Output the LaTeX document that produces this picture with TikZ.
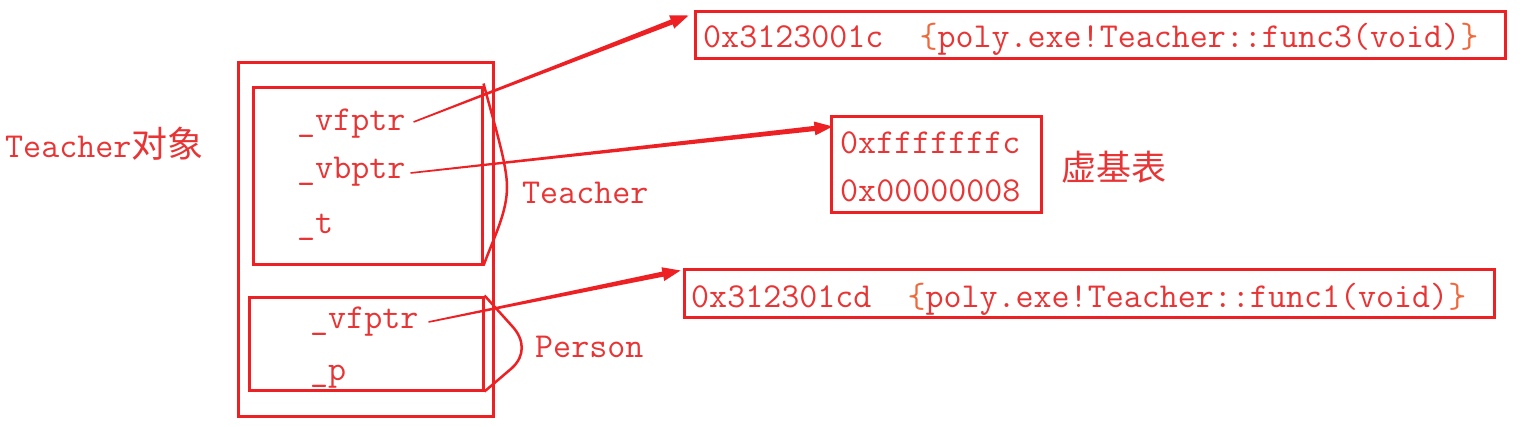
\documentclass[tikz,border=0pt]{standalone}
\usepackage{fontspec}
\newfontfamily\cjkfont{Noto Sans CJK SC}
\usetikzlibrary{calc}
\definecolor{boxred}{RGB}{237,32,36}
\definecolor{txtred}{RGB}{232,52,52}
\definecolor{brorange}{RGB}{238,105,60}
\tikzset{
  box/.style={draw=boxred, line width=3pt, inner sep=0pt, rectangle},
  lbl/.style={text=txtred, font=\fontsize{35}{40}\selectfont\ttfamily, inner sep=0pt, anchor=base west},
  cjk/.style={text=txtred, font=\fontsize{35}{40}\selectfont\cjkfont, inner sep=0pt, anchor=base west},
  bracecurve/.style={draw=boxred, line width=2.5pt},
}
\newcommand\taperarrow[2]{%
  \coordinate (h) at ($(#2)!18pt!(#1)$);
  \fill[boxred] ($(#1)!0.8pt!90:(#2)$) -- ($(h)!2.6pt!-90:(#1)$) -- ($(h)!7pt!-90:(#1)$) -- (#2)
     -- ($(h)!7pt!90:(#1)$) -- ($(h)!2.6pt!90:(#1)$) -- ($(#1)!0.8pt!-90:(#2)$) -- cycle;
}
\begin{document}
\begin{tikzpicture}[x=1pt,y=-1pt]
\useasboundingbox (0,0) rectangle (1529,426);
% object
\node[lbl] (obj) at (5,157) {Teacher{\cjkfont\fontsize{36}{40}\selectfont 对象}};
\node[box, minimum width=255, minimum height=354] (outer) at (365.5,239) {};
\node[box, minimum width=229, minimum height=177] (tbox) at (367.5,175.5) {};
\node[box, minimum width=234, minimum height=93] (pbox) at (366,343.5) {};
\node[lbl] (tvf) at (297,130) {\_vfptr};
\node[lbl] (tvb) at (297,178) {\_vbptr};
\node[lbl] (tt) at (297,233) {\_t};
\node[lbl] (pvf) at (310,328) {\_vfptr};
\node[lbl] (pp) at (310,380) {\_p};
% braces
\draw[bracecurve] (tbox.north east) ++(0,-2) .. controls (496,130) and (507,165) .. (507,187)
   .. controls (507,212) and (495,235) .. (tbox.south east);
\draw[bracecurve] (pbox.north east) -- (512,326) .. controls (525,340) and (525,356) .. (512,368) -- (pbox.south east);
\node[lbl] (tlab) at (522,203) {Teacher};
\node[lbl] (plab) at (535,357) {Person};
% right boxes
\node[box, minimum width=810, minimum height=47] (f3box) at (1100,34.5) {};
\node[lbl] (f3) at (703,47) {0x3123001c\ \ \textcolor{brorange}{\{}poly.exe!Teacher::func3(void)\textcolor{brorange}{\}}};
\node[box, minimum width=210, minimum height=96] (vbt) at (936,164) {};
\node[lbl] (v1) at (840,153) {0xfffffffc};
\node[lbl] (v2) at (840,201) {0x00000008};
\node[cjk] (vlab) at (1061,180) {虚基表};
\node[box, minimum width=810, minimum height=48] (f1box) at (1089,293) {};
\node[lbl] (f1) at (691,307) {0x312301cd\ \ \textcolor{brorange}{\{}poly.exe!Teacher::func1(void)\textcolor{brorange}{\}}};
% arrows
\coordinate (s1) at ($(tvf.base east)+(8,-8)$);
\coordinate (e1) at ($(f3box.north west)+(-5,6)$);
\coordinate (s2) at ($(tvb.base east)+(5,-5)$);
\coordinate (e2) at ($(vbt.north west)+(3,12)$);
\coordinate (s3) at ($(pvf.base east)+(10,-6)$);
\coordinate (e3) at ($(f1box.north west)+(-2,3)$);
\taperarrow{s1}{e1}
\taperarrow{s2}{e2}
\taperarrow{s3}{e3}
\end{tikzpicture}
\end{document}
